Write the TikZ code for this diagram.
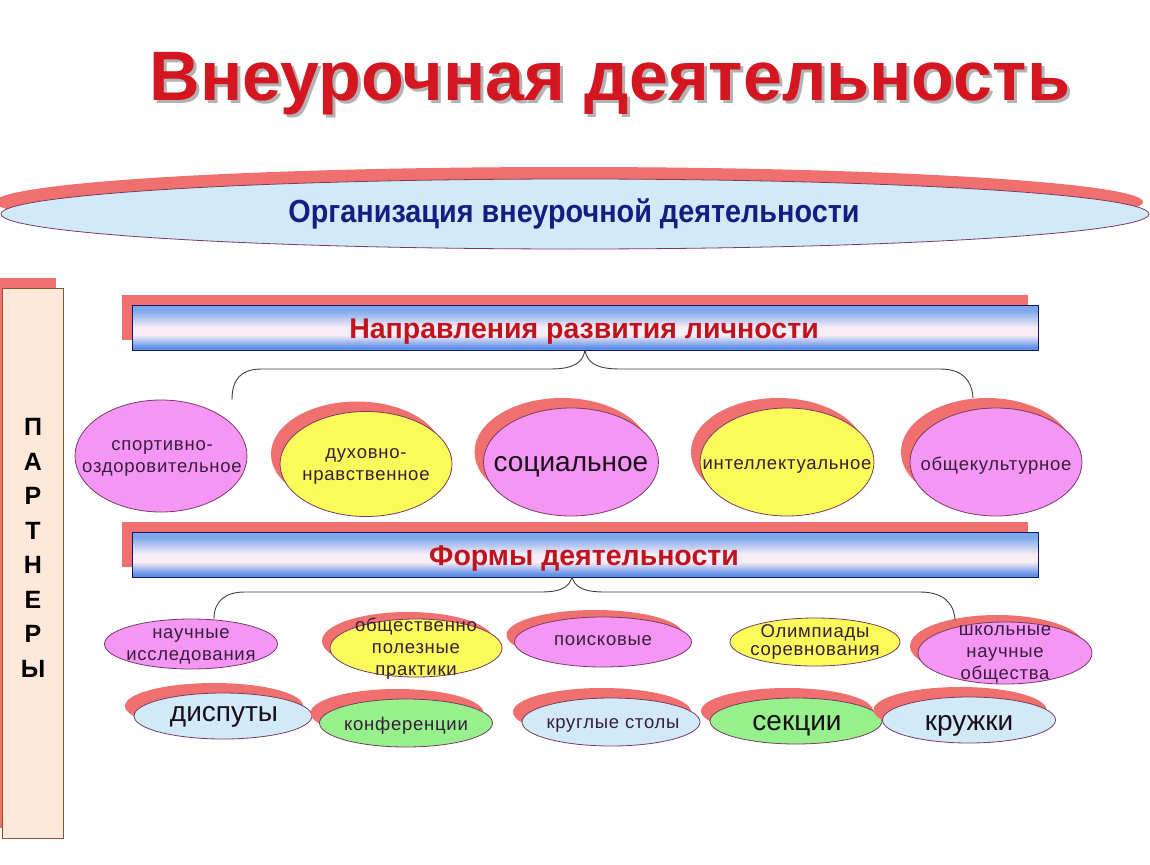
\documentclass[tikz,border=0pt]{standalone}
\usepackage{fontspec}
\setmainfont{Liberation Sans}
\newfontfamily\narrowfont[FakeStretch=0.9]{Liberation Sans}
\newfontfamily\spacedfont[LetterSpace=4]{Liberation Sans}
\usetikzlibrary{shapes.geometric,shadows}
\definecolor{shred}{RGB}{240,112,112}
\definecolor{pinkf}{RGB}{245,150,245}
\definecolor{yelf}{RGB}{250,250,90}
\definecolor{bluef}{RGB}{210,234,248}
\definecolor{greenf}{RGB}{150,240,140}
\definecolor{edgec}{RGB}{120,60,100}
\definecolor{titlered}{RGB}{212,22,32}
\definecolor{navy}{RGB}{20,30,130}
\definecolor{barblue}{RGB}{125,168,236}
\definecolor{barblueb}{RGB}{95,145,232}
\definecolor{barwhite}{RGB}{250,238,246}
\definecolor{peach}{RGB}{253,232,218}
\definecolor{txt}{RGB}{55,30,60}
\definecolor{txtb}{RGB}{25,15,25}
\pgfdeclareverticalshading{barshade}{100bp}{color(0bp)=(barblueb); color(25bp)=(barblueb); color(28bp)=(barblueb); color(42bp)=(barwhite); color(50bp)=(barwhite); color(69bp)=(barblue); color(75bp)=(barblue); color(100bp)=(barblue)}
\tikzset{
  oval/.style={ellipse, draw=edgec, line width=0.8pt, inner sep=0pt},
  shad/.style={general shadow={fill=shred, shadow xshift=-9pt, shadow yshift=10pt}},
  shadlow/.style={general shadow={fill=shred, shadow xshift=-8pt, shadow yshift=7pt}},
  barshadow/.style={fill=shred},
  barbox/.style={rectangle, draw=navy!80!black, line width=0.8pt, minimum width=906pt, minimum height=45pt,
     shading=barshade, inner sep=0pt},
  bartext/.style={text=titlered!90!black, font=\bfseries\fontsize{28.5}{30}\selectfont},
  brace/.style={draw=black!75, line width=0.9pt},
  smalltxt/.style={align=center, inner sep=0pt, text=txt, font=\spacedfont\fontsize{18.5}{22}\selectfont},
  bigtxt/.style={align=center, inner sep=0pt, font=\fontsize{28}{30}\selectfont, text=txtb},
  plet/.style={font=\bfseries\fontsize{25}{25}\selectfont, text=black}
}
\begin{document}
\begin{tikzpicture}[x=1pt,y=-1pt]
\useasboundingbox (0,0) rectangle (1150,864);
\fill[white] (0,0) rectangle (1150,864);

% title
\node[text=black!30, font=\bfseries\fontsize{70}{74}\selectfont, anchor=base] at (613,104) {Внеурочная деятельность};
\node (title) [text=titlered, font=\bfseries\fontsize{70}{74}\selectfont, anchor=base] at (610,101) {Внеурочная деятельность};

% organisation ellipse
\node (org) [ellipse, draw=edgec, line width=0.8pt, fill=bluef, minimum width=1148pt, minimum height=70pt,
   general shadow={fill=shred, shadow xshift=-6pt, shadow yshift=12pt}] at (575,214) {};
\node (orgt) [anchor=base, font=\narrowfont\bfseries\fontsize{32}{34}\selectfont, text=navy] at (574,222) {Организация внеурочной деятельности};

% partners box
\node (part) [rectangle, draw=brown!70!black, line width=0.8pt, fill=peach, minimum width=61pt, minimum height=550pt,
   inner sep=0pt, general shadow={fill=shred, shadow xshift=-8pt, shadow yshift=10pt}] at (33,563) {};
\foreach \l [count=\i] in {П,А,Р,Т,Н,Е,Р,Ы}
  \node[plet] (p\i) at (33,{427+(\i-1)*34.5}) {\l};

% bars
\fill[barshadow] (122,295) rectangle (1028,340);
\node (bar1) [barbox] at (585,327.5) {};
\node (bar1t) [bartext, anchor=base] at (584,338) {Направления развития личности};
\fill[barshadow] (122,522) rectangle (1028,567);
\node (bar2) [barbox] at (585,554.5) {};
\node (bar2t) [bartext, anchor=base] at (584,565) {Формы деятельности};

% row 1
\node (a1) [oval, fill=pinkf, minimum width=172pt, minimum height=112pt] at (161,456) {};
\node (a2) [oval, shad, fill=yelf, minimum width=172pt, minimum height=105pt] at (366,464) {};
\node (a3) [oval, shad, fill=pinkf, minimum width=175pt, minimum height=108pt] at (571,462) {};
\node (a4) [oval, shad, fill=yelf, minimum width=174pt, minimum height=108pt] at (787,462) {};
\node (a5) [oval, shad, fill=pinkf, minimum width=172pt, minimum height=108pt] at (996,462) {};
\node (a1t) [smalltxt] at (162,458) {спортивно-\\оздоровительное};
\node (a2t) [smalltxt] at (366,466) {духовно-\\нравственное};
\node (a3t) [bigtxt] at (571,467) {социальное};
\node (a4t) [smalltxt] at (787,466) {интеллектуальное};
\node (a5t) [smalltxt] at (996,466) {общекультурное};

% row 2
\node (b1) [oval, fill=pinkf, minimum width=173pt, minimum height=50pt] at (191,644) {};
\node (b2) [oval, shadlow, fill=yelf, minimum width=172pt, minimum height=58pt] at (416,648) {};
\node (b3) [oval, shadlow, fill=pinkf, minimum width=177pt, minimum height=50pt] at (603,642) {};
\node (b4) [oval, fill=yelf, minimum width=170pt, minimum height=48pt] at (815,642) {};
\node (b5) [oval, shadlow, fill=pinkf, minimum width=174pt, minimum height=62pt] at (1005,653) {};
\node (b1t) [smalltxt] at (191,646) {научные\\исследования};
\node (b2t) [smalltxt] at (416,649) {общественно\\полезные\\практики};
\node (b3t) [smalltxt] at (603,641) {поисковые};
\node (b4t) [smalltxt, font=\spacedfont\fontsize{18.5}{18.5}\selectfont] at (815,642) {Олимпиады\\соревнования};
\node (b5t) [smalltxt] at (1005,654) {школьные\\научные\\общества};

% row 3
\node (c1) [oval, shad, fill=bluef, minimum width=178pt, minimum height=46pt] at (223,716) {};
\node (c2) [oval, shad, fill=greenf, minimum width=173pt, minimum height=48pt] at (406,723) {};
\node (c3) [oval, shad, fill=bluef, minimum width=178pt, minimum height=48pt] at (611,722) {};
\node (c4) [oval, shad, fill=greenf, minimum width=172pt, minimum height=46pt] at (796,721) {};
\node (c5) [oval, shad, fill=bluef, minimum width=173pt, minimum height=46pt] at (969,720) {};
\node (c1t) [bigtxt] at (224,717) {диспуты};
\node (c2t) [smalltxt] at (406,726) {конференции};
\node (c3t) [smalltxt] at (613,725) {круглые столы};
\node (c4t) [bigtxt] at (797,726) {секции};
\node (c5t) [bigtxt] at (969,726) {кружки};

% braces
\coordinate (t1) at (585,350);
\coordinate (l1) at (232,400);
\coordinate (r1) at (973,398);
\draw[brace] (t1) .. controls (583,362) and (575,369) .. (550,369) -- (262,369)
   .. controls (240,369) and (232,380) .. (l1);
\draw[brace] (t1) .. controls (587,362) and (595,369) .. (620,369) -- (940,369)
   .. controls (962,369) and (972,380) .. (r1);
\coordinate (t2) at (572,577);
\coordinate (l2) at (214,619);
\coordinate (r2) at (955,620);
\draw[brace] (t2) .. controls (569,588) and (560,592) .. (540,592) -- (245,592)
   .. controls (224,592) and (214,602) .. (l2);
\draw[brace] (t2) .. controls (575,588) and (585,592) .. (605,592) -- (920,592)
   .. controls (942,592) and (954,602) .. (r2);
\end{tikzpicture}
\end{document}
